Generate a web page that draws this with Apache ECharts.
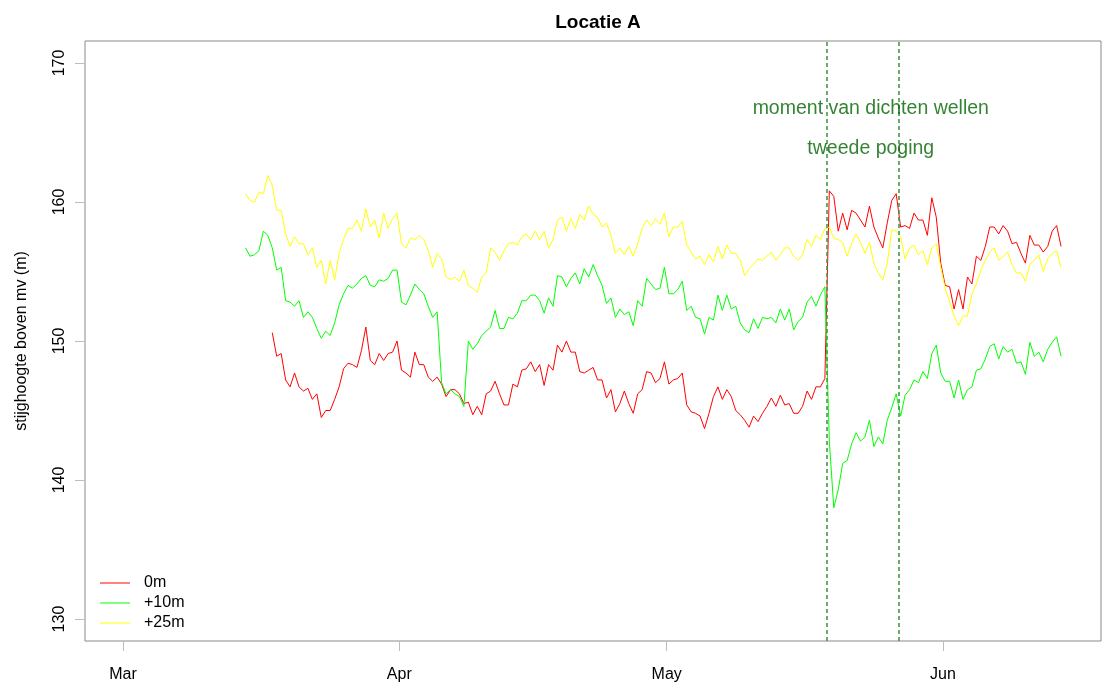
<!DOCTYPE html>
<html>
<head>
<meta charset="utf-8">
<title>Locatie A</title>
<script src="https://cdn.jsdelivr.net/npm/echarts@6/dist/echarts.min.js"></script>
<style>
  html, body { margin: 0; padding: 0; background: #ffffff; }
  #chart { width: 1103px; height: 686px; }
</style>
</head>
<body>
<div id="chart"></div>
<script>
// Piezometer heads (m) sampled every 12 hours.
// Time is expressed in days since 1 March; the first sample is 14 March 18:00.
const START_DAY = 13.75;
const STEP_DAY = 0.5;

const seriesNames = ['0m', '+10m', '+25m'];
const seriesColors = ['#ff0000', '#00ff00', '#ffff00'];

// 0m filter (starts a few days later than the others)
const head0m = [
  null, null, null, null, null, null,
  150.6, 148.9, 149.1, 147.2, 146.7, 147.7, 146.7, 146.4, 146.6, 145.8,
  146.2, 144.5, 145.0, 145.0, 145.8, 146.7, 148.0, 148.4, 148.3, 148.1,
  149.3, 151.0, 148.6, 148.3, 149.1, 148.6, 149.1, 149.2, 150.0, 147.9,
  147.7, 147.4, 149.2, 148.3, 148.3, 147.4, 147.1, 147.4, 146.9, 146.0,
  146.5, 146.5, 146.2, 145.5, 145.6, 144.7, 145.3, 144.7, 146.2, 146.4,
  147.1, 146.2, 145.4, 145.4, 146.9, 146.7, 147.9, 148.0, 148.5, 147.8,
  148.3, 146.8, 148.3, 147.9, 149.7, 149.2, 150.0, 149.2, 149.2, 147.8,
  147.7, 147.9, 148.1, 147.2, 147.2, 145.9, 146.5, 144.9, 145.5, 146.4,
  145.5, 144.8, 146.2, 146.5, 147.8, 147.7, 147.0, 147.3, 148.5, 146.9,
  147.2, 147.3, 147.7, 145.4, 144.9, 144.8, 144.6, 143.7, 144.8, 146.0,
  146.7, 145.8, 146.5, 146.0, 145.0, 144.7, 144.3, 143.8, 144.6, 144.2,
  144.8, 145.3, 145.9, 145.3, 146.1, 145.4, 145.5, 144.8, 144.8, 145.3,
  146.4, 145.8, 146.7, 146.7, 147.3, 160.8, 160.4, 157.9, 159.2, 158.0,
  159.4, 159.2, 158.7, 158.2, 159.7, 158.2, 157.4, 156.7, 158.5, 160.1,
  160.6, 158.2, 158.3, 158.1, 159.2, 158.7, 158.7, 157.6, 160.3, 158.9,
  155.6, 154.0, 153.9, 152.3, 153.7, 152.3, 154.6, 154.1, 156.1, 155.8,
  156.8, 158.2, 158.2, 157.7, 158.3, 157.9, 157.0, 157.1, 156.3, 155.6,
  157.6, 156.9, 156.9, 156.4, 156.8, 157.9, 158.3, 156.8
];

// +10m filter
const head10m = [
  156.7, 156.1, 156.2, 156.5, 157.9, 157.6, 156.7, 155.1, 155.3, 152.9,
  152.8, 152.5, 152.9, 151.7, 152.1, 151.7, 150.9, 150.2, 150.7, 150.4,
  151.3, 152.6, 153.4, 154.0, 153.8, 154.1, 154.5, 154.7, 154.0, 153.9,
  154.4, 154.3, 154.5, 155.1, 155.1, 152.8, 152.6, 153.3, 154.1, 153.7,
  153.4, 152.5, 151.7, 152.1, 147.0, 146.2, 146.5, 146.2, 146.0, 145.3,
  150.0, 149.4, 149.8, 150.4, 150.7, 151.0, 152.2, 150.9, 150.9, 151.7,
  151.6, 152.0, 152.9, 152.9, 153.3, 153.3, 152.9, 152.0, 153.1, 152.5,
  154.7, 154.6, 153.9, 154.5, 154.9, 154.1, 155.2, 154.6, 155.5, 154.7,
  154.0, 152.7, 153.1, 151.7, 152.3, 151.9, 152.1, 151.1, 152.9, 152.5,
  154.5, 154.1, 153.7, 153.8, 155.3, 153.4, 153.4, 153.7, 154.3, 152.2,
  152.5, 151.7, 151.6, 150.5, 151.7, 151.5, 153.3, 152.2, 153.3, 152.3,
  152.5, 151.3, 150.8, 150.6, 151.6, 150.9, 151.7, 151.6, 151.7, 151.3,
  152.3, 151.5, 152.3, 150.8, 151.4, 151.7, 152.8, 153.2, 152.5, 153.3,
  153.9, 142.8, 138.0, 139.3, 141.2, 141.4, 142.6, 143.4, 142.8, 143.1,
  144.3, 142.4, 143.1, 142.6, 144.3, 145.2, 146.2, 144.6, 146.1, 146.5,
  147.2, 147.0, 147.8, 147.3, 149.1, 149.7, 147.7, 147.1, 147.1, 145.9,
  147.2, 145.8, 146.5, 146.7, 147.9, 148.0, 148.7, 149.6, 149.8, 148.7,
  149.6, 149.2, 149.4, 148.4, 148.5, 147.6, 149.9, 148.9, 149.2, 148.5,
  149.4, 149.9, 150.3, 148.9
];

// +25m filter
const head25m = [
  160.6, 160.1, 160.0, 160.7, 160.6, 161.9, 161.2, 159.4, 159.4, 157.7,
  156.8, 157.5, 157.0, 157.0, 156.2, 156.7, 155.3, 155.8, 154.1, 155.8,
  154.4, 156.3, 157.3, 158.1, 158.1, 158.7, 157.9, 159.5, 158.2, 158.7,
  157.4, 159.2, 158.1, 158.8, 159.2, 157.0, 156.7, 157.4, 157.3, 157.6,
  157.3, 156.5, 155.3, 156.3, 155.9, 154.6, 154.4, 154.6, 154.3, 155.1,
  154.0, 153.8, 153.5, 154.6, 154.9, 156.7, 156.4, 155.8, 156.5, 157.0,
  157.1, 156.9, 157.5, 157.7, 157.3, 157.9, 157.3, 157.9, 156.7, 157.3,
  158.7, 158.9, 157.9, 158.8, 158.1, 159.1, 158.7, 159.7, 159.1, 158.9,
  158.2, 158.5, 157.6, 156.3, 156.7, 156.2, 156.8, 156.1, 157.0, 158.1,
  158.7, 158.3, 158.8, 158.4, 159.2, 157.5, 158.2, 158.2, 158.6, 156.9,
  156.4, 155.9, 156.1, 155.5, 156.2, 155.7, 156.8, 155.9, 156.9, 156.3,
  156.3, 155.8, 154.7, 155.2, 155.5, 155.9, 155.8, 156.1, 156.4, 155.8,
  156.2, 156.7, 156.7, 156.1, 155.8, 156.2, 157.3, 156.8, 157.6, 157.3,
  158.1, 158.2, 157.4, 157.3, 157.1, 156.1, 157.0, 157.7, 157.1, 156.3,
  157.1, 155.6, 154.9, 154.4, 155.6, 158.0, 157.9, 157.5, 155.9, 156.7,
  156.9, 156.2, 156.5, 155.5, 156.7, 157.0, 155.3, 153.8, 152.8, 151.8,
  151.1, 151.8, 151.8, 153.4, 154.1, 155.1, 155.8, 156.4, 156.7, 155.8,
  156.1, 156.4, 155.5, 154.9, 154.9, 154.3, 155.5, 155.8, 156.2, 155.0,
  155.9, 156.3, 156.5, 155.3
];

// Month ticks (days since 1 March)
const monthTicks = [0, 31, 61, 92];
const monthLabels = ['Mar', 'Apr', 'May', 'Jun'];
const yTicks = [130, 140, 150, 160, 170];

// Well sealing events: 19 May and 27 May (days since 1 March)
const sealDays = [79, 87];
const noteTexts = ['moment van dichten wellen', 'tweede poging'];
const notePos = [[83.9, 166.75], [83.9, 163.85]];

const FONT = 'Liberation Sans, Arial, Helvetica, sans-serif';
const xMin = -4.26;
const xMax = 109.73;

function toPairs(values) {
  return values.map((v, i) => [START_DAY + i * STEP_DAY, v]);
}

const headSeries = [head0m, head10m, head25m].map((vals, k) => ({
  name: seriesNames[k],
  type: 'line',
  data: toPairs(vals),
  showSymbol: false,
  symbol: 'none',
  lineStyle: { color: seriesColors[k], width: 1 },
  itemStyle: { color: seriesColors[k] },
  connectNulls: false,
  animation: false,
  z: 2 + k
}));

const chart = echarts.init(document.getElementById('chart'), null, { renderer: 'canvas' });

chart.setOption({
  animation: false,
  backgroundColor: '#ffffff',
  title: {
    text: 'Locatie A',
    left: 593,
    top: 8,
    textAlign: 'center',
    textStyle: { fontFamily: FONT, fontSize: 19, fontWeight: 'bold', color: '#000' }
  },
  legend: {
    data: seriesNames.map(n => ({ name: n, icon: 'rect' })),
    orient: 'vertical',
    left: 95,
    top: 570,
    itemWidth: 30,
    itemHeight: 1,
    itemGap: 4,
    selectedMode: false,
    textStyle: { fontFamily: FONT, fontSize: 16, color: '#000', padding: [0, 0, 0, 9] }
  },
  grid: {
    left: 85, top: 41, width: 1016, height: 600,
    show: true, borderColor: '#8a8a8a', borderWidth: 1, backgroundColor: 'transparent'
  },
  xAxis: {
    type: 'value',
    min: xMin,
    max: xMax,
    axisLine: { show: false, onZero: false },
    splitLine: { show: false },
    axisTick: { show: true, inside: false, length: 10, lineStyle: { color: '#bdbdbd' }, customValues: monthTicks },
    axisLabel: {
      customValues: monthTicks,
      margin: 26,
      fontFamily: FONT, fontSize: 16, color: '#000',
      formatter: (v) => monthLabels[monthTicks.indexOf(v)] || ''
    }
  },
  yAxis: {
    type: 'value',
    min: 128.42,
    max: 171.58,
    name: 'stijghoogte boven mv (m)',
    nameLocation: 'middle',
    nameRotate: 90,
    nameGap: 55,
    nameTextStyle: { fontFamily: FONT, fontSize: 16, color: '#000' },
    axisLine: { show: false, onZero: false },
    splitLine: { show: false },
    axisTick: { show: true, inside: false, length: 10, lineStyle: { color: '#bdbdbd' }, customValues: yTicks },
    axisLabel: {
      customValues: yTicks,
      rotate: 90,
      margin: 17,
      fontFamily: FONT, fontSize: 16, color: '#000'
    }
  },
  series: headSeries.concat([
    {
      name: 'afdichting',
      type: 'line',
      data: [],
      silent: true,
      markLine: {
        silent: true,
        symbol: ['none', 'none'],
        label: { show: false },
        lineStyle: { color: 'rgb(70,150,70)', width: 1.6, type: [4, 3] },
        data: sealDays.map(d => ({ xAxis: d }))
      },
      z: 6
    },
    {
      name: 'notities',
      type: 'scatter',
      symbolSize: 0,
      silent: true,
      data: notePos.map((p, i) => ({ value: p, label: { formatter: noteTexts[i] } })),
      label: {
        show: true,
        position: 'inside',
        fontFamily: FONT,
        fontSize: 19.5,
        color: '#006400'
      },
      z: 7
    }
  ])
});
</script>
</body>
</html>
